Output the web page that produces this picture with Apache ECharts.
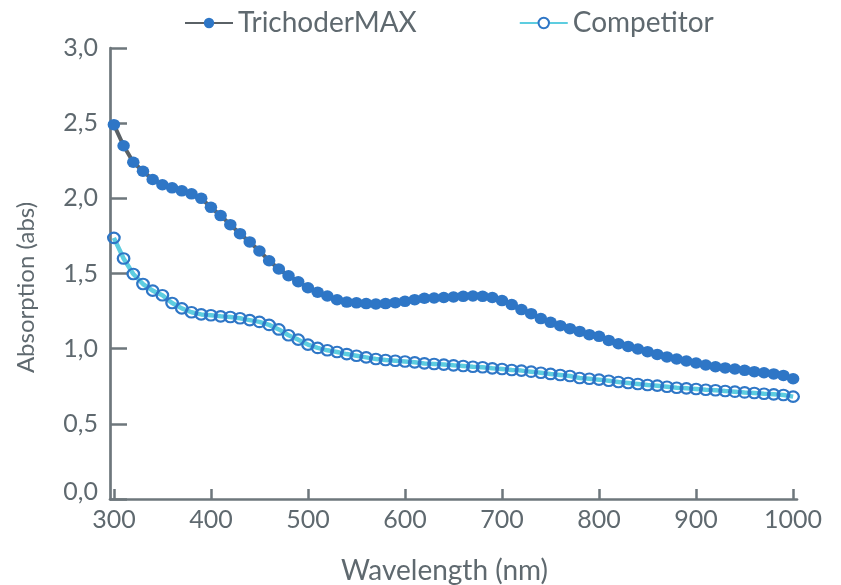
<!DOCTYPE html>
<html>
<head>
<meta charset="utf-8">
<script src="https://cdn.jsdelivr.net/npm/echarts@6/dist/echarts.min.js"></script>
<style>
html,body{margin:0;padding:0;background:#fff;}
#chart{width:841px;height:585px;}
</style>
</head>
<body>
<div id="chart"></div>
<script>
const wavelengths = [300,310,320,330,340,350,360,370,380,390,400,410,420,430,440,450,460,470,480,490,
  500,510,520,530,540,550,560,570,580,590,600,610,620,630,640,650,660,670,680,690,
  700,710,720,730,740,750,760,770,780,790,800,810,820,830,840,850,860,870,880,890,
  900,910,920,930,940,950,960,970,980,990,1000];

const trichoderMAX = [2.49,2.35,2.24,2.18,2.125,2.09,2.07,2.05,2.03,2.00,
  1.94,1.885,1.825,1.765,1.71,1.65,1.585,1.53,1.485,1.445,
  1.405,1.375,1.35,1.325,1.31,1.305,1.30,1.297,1.30,1.306,
  1.315,1.326,1.335,1.337,1.34,1.344,1.348,1.35,1.348,1.34,
  1.32,1.293,1.26,1.233,1.20,1.175,1.153,1.133,1.115,1.093,
  1.082,1.055,1.033,1.015,0.998,0.98,0.962,0.945,0.931,0.918,
  0.905,0.891,0.88,0.872,0.865,0.856,0.847,0.84,0.832,0.822,0.80];

const competitor = [1.737,1.60,1.497,1.43,1.386,1.355,1.304,1.268,1.242,1.228,
  1.222,1.215,1.211,1.202,1.19,1.178,1.158,1.128,1.089,1.06,
  1.027,1.005,0.989,0.978,0.964,0.953,0.942,0.931,0.925,0.92,
  0.915,0.909,0.902,0.898,0.894,0.889,0.885,0.88,0.876,0.869,
  0.865,0.858,0.854,0.847,0.84,0.832,0.825,0.818,0.805,0.80,
  0.794,0.787,0.778,0.772,0.765,0.758,0.754,0.747,0.74,0.736,
  0.732,0.727,0.723,0.718,0.714,0.709,0.705,0.70,0.696,0.692,0.681];

const xTickValues = [300,400,500,600,700,800,900,1000];
const seriesNames = ['TrichoderMAX','Competitor'];

const textColor = '#5f696f';
const axisColor = '#6e777c';
const fontFamily = 'Lato, "Noto Sans", sans-serif';

const chart = echarts.init(document.getElementById('chart'));
chart.setOption({
  animation: false,
  backgroundColor: '#ffffff',
  textStyle: { fontFamily: fontFamily, color: textColor },
  legend: {
    left: 179, top: 4,
    itemWidth: 48, itemHeight: 13, itemGap: 102,
    textStyle: { fontSize: 28, color: textColor, fontFamily: fontFamily },
    data: [
      { name: seriesNames[0] },
      { name: seriesNames[1], itemStyle: { color: '#ffffff' } }
    ]
  },
  grid: { left: 110, right: 44, top: 48, bottom: 86, outerBoundsMode: 'none', containLabel: false },
  xAxis: {
    type: 'value', min: 296, max: 1004,
    name: 'Wavelength (nm)', nameLocation: 'middle', nameGap: 58,
    nameTextStyle: { fontSize: 28, color: textColor, padding: [0, 18, 0, 0] },
    axisLine: { show: true, onZero: false, lineStyle: { color: axisColor, width: 2.7 } },
    axisTick: { show: true, inside: true, length: 10, customValues: xTickValues, lineStyle: { color: axisColor, width: 2.5 } },
    axisLabel: {
      customValues: xTickValues, fontSize: 25, color: textColor, margin: 8,
      formatter: function (v) { return String(v); }
    },
    splitLine: { show: false }
  },
  yAxis: {
    type: 'value', min: 0, max: 3, interval: 0.5,
    name: 'Absorption (abs)', nameLocation: 'middle', nameGap: 72,
    nameTextStyle: { fontSize: 24, color: textColor, padding: [0, 28, 0, 0] },
    axisLine: { show: true, lineStyle: { color: axisColor, width: 2.7 } },
    axisTick: { show: true, inside: true, length: 17, lineStyle: { color: axisColor, width: 2.5 } },
    axisLabel: {
      fontSize: 25, color: textColor, margin: 12,
      formatter: function (v) {
        const s = v.toFixed(1).replace('.', ',');
        return v === 0 ? '{z|' + s + '}' : s;
      },
      rich: { z: { fontSize: 25, color: textColor, padding: [0, 0, 14, 0] } }
    },
    splitLine: { show: false }
  },
  series: [
    {
      name: seriesNames[0], type: 'line',
      data: wavelengths.map((w, i) => [w, trichoderMAX[i]]),
      symbol: 'circle', symbolSize: [12.5, 11.5],
      lineStyle: { color: '#5a6166', width: 4 },
      itemStyle: { color: '#2e76c6' },
      z: 3
    },
    {
      name: seriesNames[1], type: 'line',
      data: wavelengths.map((w, i) => [w, competitor[i]]),
      symbol: 'circle', symbolSize: [11.5, 10.5],
      lineStyle: { color: '#5dcde0', width: 4.5 },
      itemStyle: { color: 'rgba(255,255,255,0)', borderColor: '#2e76c6', borderWidth: 2.2 },
      z: 2
    }
  ]
});
</script>
</body>
</html>
